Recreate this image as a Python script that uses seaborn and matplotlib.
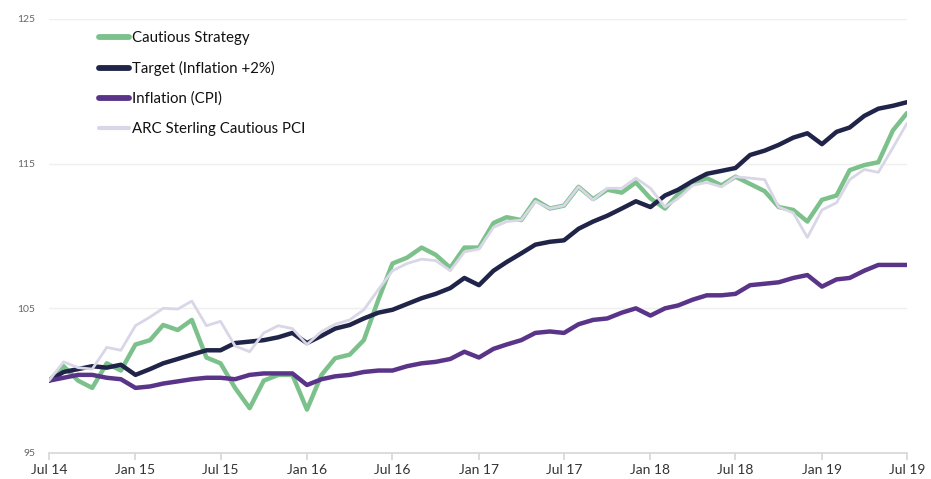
import numpy as np
import pandas as pd
import matplotlib
matplotlib.use('Agg')
import matplotlib.pyplot as plt
import matplotlib.dates as mdates
from matplotlib.lines import Line2D
import seaborn as sns

# monthly values, Jul 2014 .. Jul 2019 (61 points)
months = pd.date_range('2014-07-01', '2019-07-01', freq='MS')

cautious = [100.0, 101.0, 100.0, 99.5, 101.2, 100.7, 102.5, 102.8, 103.85, 103.5,
            104.2, 101.6, 101.2, 99.5, 98.1, 100.0, 100.4, 100.4, 98.0, 100.4,
            101.55, 101.8, 102.8, 105.6, 108.1, 108.5, 109.2, 108.7, 107.8, 109.2,
            109.2, 110.9, 111.3, 111.1, 112.5, 111.9, 112.1, 113.4, 112.55, 113.2,
            113.0, 113.7, 112.6, 111.9, 112.9, 113.6, 114.0, 113.5, 114.1, 113.6,
            113.1, 112.0, 111.8, 111.0, 112.5, 112.8, 114.55, 114.9, 115.1, 117.3,
            118.5]

target = [100.0, 100.6, 100.8, 101.0, 100.9, 101.1, 100.4, 100.8, 101.2, 101.5,
          101.8, 102.1, 102.1, 102.6, 102.7, 102.8, 103.0, 103.3, 102.6, 103.1,
          103.6, 103.85, 104.3, 104.7, 104.9, 105.3, 105.7, 106.0, 106.4, 107.1,
          106.6, 107.6, 108.2, 108.8, 109.4, 109.6, 109.7, 110.5, 111.0, 111.4,
          111.9, 112.4, 112.0, 112.8, 113.2, 113.8, 114.3, 114.5, 114.7, 115.6,
          115.9, 116.3, 116.8, 117.1, 116.35, 117.2, 117.5, 118.3, 118.8, 119.0,
          119.25]

inflation = [100.0, 100.2, 100.4, 100.4, 100.2, 100.1, 99.5, 99.6, 99.8, 99.95,
             100.1, 100.2, 100.2, 100.1, 100.4, 100.5, 100.5, 100.5, 99.7, 100.1,
             100.3, 100.4, 100.6, 100.7, 100.7, 101.0, 101.2, 101.3, 101.5, 102.0,
             101.6, 102.2, 102.5, 102.8, 103.3, 103.4, 103.3, 103.9, 104.2, 104.3,
             104.7, 105.0, 104.5, 105.0, 105.2, 105.6, 105.9, 105.9, 106.0, 106.6,
             106.7, 106.8, 107.1, 107.3, 106.5, 107.0, 107.1, 107.6, 108.0, 108.0,
             108.0]

arc = [100.0, 101.3, 100.9, 100.8, 102.3, 102.1, 103.8, 104.4, 105.0, 104.95,
       105.5, 103.8, 104.1, 102.4, 102.0, 103.3, 103.8, 103.6, 102.5, 103.4,
       103.9, 104.2, 104.9, 106.3, 107.6, 108.1, 108.4, 108.3, 107.6, 108.9,
       109.1, 110.6, 111.0, 111.1, 112.4, 111.9, 112.1, 113.4, 112.5, 113.3,
       113.3, 114.0, 113.3, 112.0, 112.6, 113.5, 113.7, 113.4, 114.1, 114.0,
       113.9, 112.0, 111.6, 109.9, 111.8, 112.3, 113.9, 114.6, 114.4, 116.1,
       117.8]

names = ['Cautious Strategy', 'Target (Inflation +2%)', 'Inflation (CPI)', 'ARC Sterling Cautious PCI']
colors = ['#7cc18b', '#1f2448', '#5a3488', '#d9d6e7']
widths = [3.2, 3.2, 3.2, 2.0]
series = [cautious, target, inflation, arc]

sns.set_theme(style='white')
plt.rcParams['font.family'] = ['Lato', 'DejaVu Sans']

fig = plt.figure(figsize=(9.31, 4.79), dpi=100)
ax = fig.add_axes([49 / 931, 26 / 479, 858 / 931, 434 / 479])

for name, vals, c, w in zip(names, series, colors, widths):
    df = pd.DataFrame({'date': months, 'value': vals})
    sns.lineplot(data=df, x='date', y='value', color=c, linewidth=w, ax=ax,
                 solid_joinstyle='round', solid_capstyle='round')

ax.set_xlim(months[0], months[-1])
ax.set_ylim(95, 125)
ax.set_yticks([95, 105, 115, 125])
ax.set_xlabel('')
ax.set_ylabel('')

ax.xaxis.set_major_locator(mdates.MonthLocator(bymonth=[1, 7]))
ax.xaxis.set_major_formatter(mdates.DateFormatter('%b %y'))

ax.grid(axis='y', color='#efefef', linewidth=1)
ax.grid(axis='x', visible=False)
for s in ['top', 'right', 'left']:
    ax.spines[s].set_visible(False)
ax.spines['bottom'].set_color('#d6d6d6')
ax.spines['bottom'].set_linewidth(1.2)

ax.tick_params(axis='x', bottom=True, length=5, width=1.2, color='#d6d6d6',
               labelsize=10, labelcolor='#333333', pad=3)
ax.tick_params(axis='y', left=False, length=0, labelsize=7.5, labelcolor='#666666', pad=10)

handles = [Line2D([0], [0], color=c, lw=w + 1) for c, w in zip(colors, widths)]
ax.legend(handles, names, loc='upper left', bbox_to_anchor=(0.043, 1.003),
          frameon=False, fontsize=10.8, handlelength=2.0, handletextpad=0.15,
          labelspacing=1.05, labelcolor='#111111')

fig.savefig('out.png', dpi=100)
